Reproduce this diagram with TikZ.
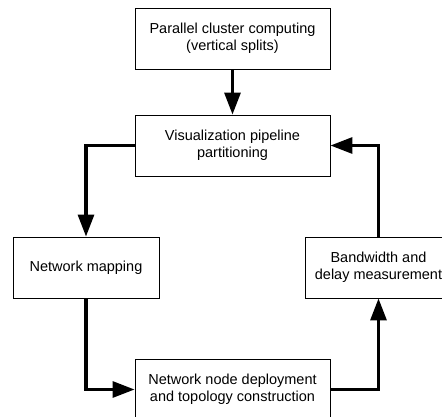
\documentclass[tikz,border=0pt]{standalone}
\usepackage{fontspec}
\setmainfont{Liberation Sans}
\usetikzlibrary{arrows.meta}
\tikzset{
	stage/.style={draw, line width=0.6pt, minimum width=4.875cm, minimum height=1.525cm,
		align=center, inner sep=0pt, font=\fontsize{10.3}{11.9}\selectfont},
	flow/.style={line width=2.2pt, -{Triangle[length=0.55cm,width=0.4cm]}}
}
\begin{document}
\begin{tikzpicture}[x=0.025cm,y=-0.025cm]
					\useasboundingbox (0,0) rectangle (442,416);
					\clip (0,0) rectangle (442,416);
					\node[stage] (cluster) at (232.5,38.5) {Parallel cluster computing\\(vertical splits)};
					\node[stage] (pipeline) at (232.5,145.5) {Visualization pipeline\\partitioning};
					\node[stage, minimum width=3.65cm] (mapping) at (86,267.5) {Network mapping};
					\node[stage, minimum width=3.65cm] (measure) at (378.5,267.5) {Bandwidth and\\delay measurement};
					\node[stage] (deploy) at (232.5,389.5) {Network node deployment\\and topology construction};
					\draw[flow] (cluster) -- (pipeline);
					\draw[flow] (pipeline.west) -| (mapping.north);
					\draw[flow] (mapping.south) |- (deploy.west);
					\draw[flow] (deploy.east) -| (measure.south);
					\draw[flow] (measure.north) |- (pipeline.east);
				\end{tikzpicture}
\end{document}
